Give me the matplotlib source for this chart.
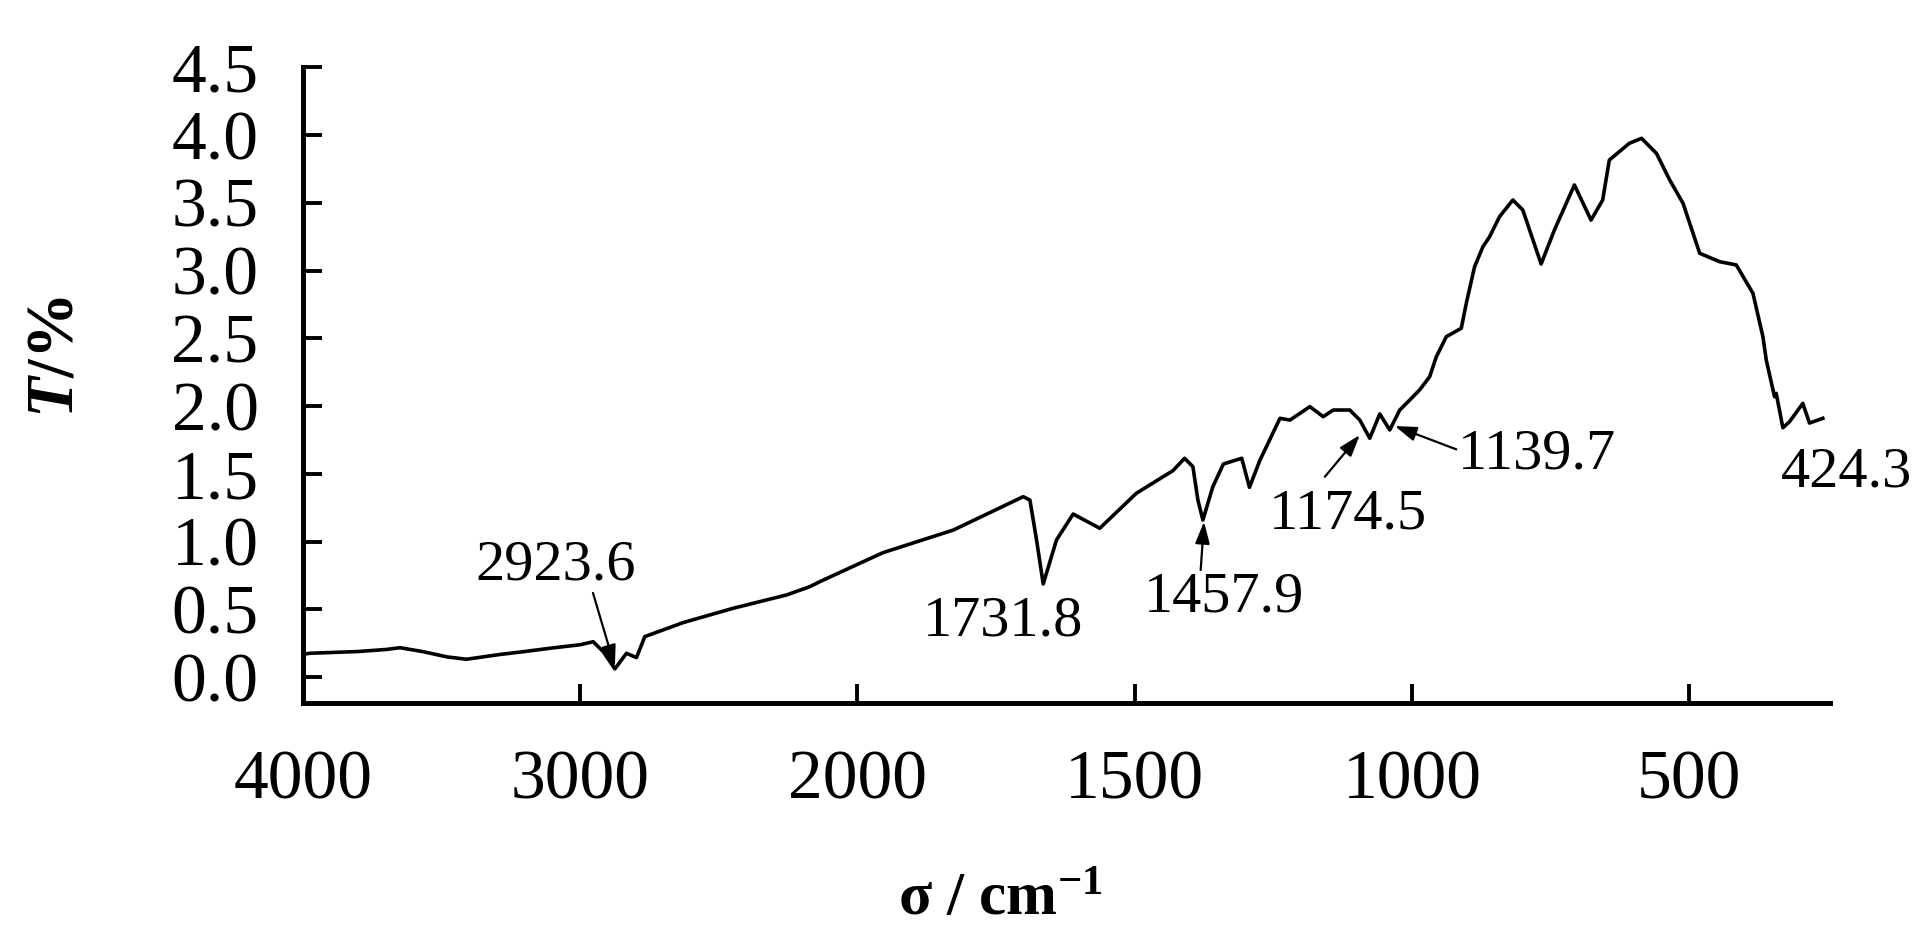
import numpy as np
import matplotlib
matplotlib.use("Agg")
import matplotlib.pyplot as plt

plt.rcParams['font.family'] = ['Liberation Serif', 'DejaVu Serif']
plt.rcParams['mathtext.fontset'] = 'custom'
plt.rcParams['mathtext.rm'] = 'Liberation Serif'
plt.rcParams['mathtext.it'] = 'Liberation Serif:italic'
plt.rcParams['mathtext.bf'] = 'Liberation Serif:bold'
plt.rcParams['mathtext.bfit'] = 'Liberation Serif:bold:italic'

# spectrum (wavenumber as drawn on the axis, T/%)
wavenumber = [4000, 3975, 3800, 3700, 3650, 3567, 3480, 3410, 3290, 3200, 3109, 3000, 2953,
              2917, 2875, 2833, 2797, 2767, 2629, 2448, 2256, 2172, 2136, 1954,
              1827, 1701, 1689, 1677, 1665, 1641, 1611, 1563, 1497, 1431, 1410,
              1395, 1386, 1377, 1359, 1340, 1307, 1293, 1274, 1238, 1220, 1184,
              1160, 1142, 1112, 1094, 1076, 1058, 1040, 1022, 1004, 986, 968,
              956, 938, 911, 902, 887, 872, 860, 842, 818, 800, 767, 743, 707,
              677, 656, 644, 608, 586, 559, 535, 511, 481, 445, 415, 385, 367,
              361, 346, 343, 331, 319, 295, 283, 259]
transmittance = [0.17, 0.177, 0.19, 0.205, 0.218, 0.189, 0.150, 0.133, 0.168, 0.19, 0.214, 0.24, 0.262,
                 0.189, 0.062, 0.177, 0.145, 0.30, 0.403, 0.509, 0.607, 0.668, 0.705, 0.919,
                 1.086, 1.332, 1.307, 1.013, 0.688, 1.013, 1.204, 1.099, 1.357, 1.524, 1.615,
                 1.553, 1.307, 1.160, 1.406, 1.573, 1.615, 1.401, 1.602, 1.910, 1.897, 1.996,
                 1.922, 1.971, 1.971, 1.897, 1.763, 1.942, 1.824, 1.971, 2.045, 2.120, 2.217,
                 2.364, 2.512, 2.574, 2.758, 3.028, 3.175, 3.249, 3.397, 3.520, 3.446, 3.048,
                 3.299, 3.631, 3.372, 3.520, 3.815, 3.938, 3.975, 3.864, 3.667, 3.495, 3.127,
                 3.065, 3.041, 2.832, 2.512, 2.34, 2.069, 2.094, 1.840, 1.885, 2.020, 1.875,
                 1.910]

x_ticks = [4000, 3000, 2000, 1500, 1000, 500]
y_ticks = [0.0, 0.5, 1.0, 1.5, 2.0, 2.5, 3.0, 3.5, 4.0, 4.5]

# peak labels: text, text position, arrow tail, arrow tip (None = no arrow)
peak_labels = ['2923.6', '1731.8', '1457.9', '1174.5', '1139.7', '424.3']
label_pos = [(3088, 0.828), (1738, 0.411), (1339, 0.585), (1116, 1.197), (775, 1.64), (216, 1.507)]
arrow_tail = [(2954, 0.622), None, (1381, 0.791), (1157, 1.479), (920, 1.681), None]
arrow_tip = [(2875, 0.076), None, (1375, 1.147), (1094, 1.787), (1031, 1.853), None]


def fwd(x):
    x = np.asarray(x, dtype=float)
    return np.where(x >= 2000, x / 1000.0, x / 500.0 - 2.0)


def inv(t):
    t = np.asarray(t, dtype=float)
    return np.where(t >= 2, t * 1000.0, (t + 2.0) * 500.0)


fig = plt.figure(figsize=(19.31, 9.39), dpi=100)
ax = fig.add_axes([0.1569, 0.2513, 0.7908, 0.6772])

ax.set_xscale('function', functions=(fwd, inv))
ax.plot(wavenumber, transmittance, color='black', lw=2.6)

ax.set_xlim(4000, 246)
ax.set_ylim(-0.19, 4.5)
ax.set_xticks(x_ticks)
ax.set_xticklabels([str(v) for v in x_ticks])
ax.set_yticks(y_ticks)
ax.set_yticklabels([f"{v:.1f}" for v in y_ticks])
ax.minorticks_off()

for s in ['top', 'right']:
    ax.spines[s].set_visible(False)
for s in ['left', 'bottom']:
    ax.spines[s].set_linewidth(3.6)

ax.tick_params(axis='both', direction='in', length=14, width=2.8, labelsize=50)
ax.tick_params(axis='x', pad=34)
ax.tick_params(axis='y', pad=32)

ax.set_xlabel(r'σ / cm$^{\mathbf{-1}}$', fontsize=44, fontweight='bold')
ax.xaxis.set_label_coords(0.4565, -0.266)
ax.set_ylabel(r'$\mathbfit{T}$/%', fontsize=48, fontweight='bold')
ax.yaxis.set_label_coords(-0.142, 0.544)

for lab, pos, tail, tip in zip(peak_labels, label_pos, arrow_tail, arrow_tip):
    ax.text(pos[0], pos[1], lab, fontsize=42, ha='center', va='center', clip_on=False)
    if tail is not None:
        ax.annotate('', xy=tip, xytext=tail,
                    arrowprops=dict(arrowstyle='-|>,head_length=0.6,head_width=0.2',
                                    color='black', lw=1.6, mutation_scale=22,
                                    shrinkA=0, shrinkB=0))

fig.savefig('out.png', dpi=100)
